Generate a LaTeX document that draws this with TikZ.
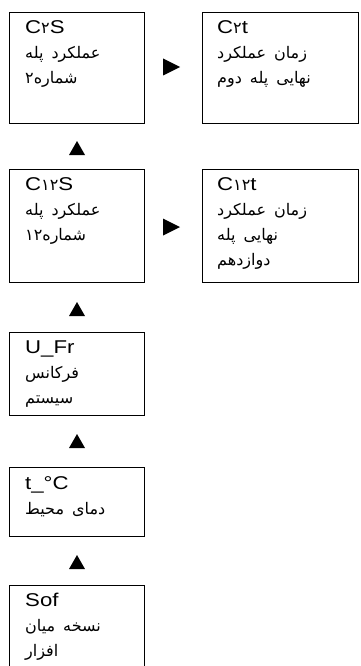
\documentclass[tikz,border=0pt]{standalone}
\usepackage{fontspec}
\setmainfont{Liberation Sans}[FakeStretch=1.2]
\newfontfamily\arfont[Script=Arabic]{DejaVu Sans}
\TeXXeTstate=1
\newcommand{\ar}[1]{{\arfont\fontsize{16}{25}\selectfont\spaceskip=8pt\beginR #1\endR}}
\newcommand{\fa}[1]{{\arfont\fontsize{16}{25}\selectfont #1}}
\newcommand{\fl}{\rule{0pt}{17pt}}
\begin{document}
\begin{tikzpicture}[x=1pt,y=-1pt,
  box/.style={draw=black, line width=1.4pt, rectangle, inner sep=0pt, anchor=north west},
  txt/.style={anchor=north west, align=left, inner sep=0pt, font=\fontsize{18.5}{25}\selectfont},
  tri/.style={fill=black}]
\useasboundingbox (0,0) rectangle (360,666);
% boxes
\node[box, minimum width=135pt, minimum height=111pt] (b1) at (9,12) {};
\node[box, minimum width=156pt, minimum height=111pt] (b2) at (202,12) {};
\node[box, minimum width=135pt, minimum height=113pt] (b3) at (9,169) {};
\node[box, minimum width=156pt, minimum height=113pt] (b4) at (202,169) {};
\node[box, minimum width=135pt, minimum height=83pt] (b5) at (9,332) {};
\node[box, minimum width=135pt, minimum height=69pt] (b6) at (9,467) {};
\node[box, minimum width=135pt, minimum height=100pt] (b7) at (9,585) {};
% texts (first baseline = top + 21)
\node[txt] (t1) at (25,16) {\fl C\fa{۲}S\\ \ar{عملکرد پله}\\ \ar{شماره۲}};
\node[txt] (t2) at (217,16) {\fl C\fa{۲}t\\ \ar{زمان عملکرد}\\ \ar{نهایی پله دوم}};
\node[txt] (t3) at (25,173) {\fl C\fa{۱۲}S\\ \ar{عملکرد پله}\\ \ar{شماره\beginL ۱۲\endL{}}};
\node[txt] (t4) at (217,173) {\fl C\fa{۱۲}t\\ \ar{زمان عملکرد}\\ \ar{نهایی پله}\\ \ar{دوازدهم}};
\node[txt] (t5) at (25,336) {\fl U\_Fr\\ \ar{فرکانس}\\ \ar{سیستم}};
\node[txt] (t6) at (25,472) {\fl t\_°C\\ \ar{دمای محیط}};
\node[txt] (t7) at (25,589) {\fl Sof\\ \ar{نسخه میان}\\ \ar{افزار}};
% arrows (right)
\coordinate (r1) at (163,67);
\coordinate (r2) at (163,227);
\fill[tri] (r1) ++(0,-8.5) -- ++(17,8.5) -- ++(-17,8.5) -- cycle;
\fill[tri] (r2) ++(0,-8.5) -- ++(17,8.5) -- ++(-17,8.5) -- cycle;
% arrows (up)
\coordinate (u1) at (77,148);
\coordinate (u2) at (77,309);
\coordinate (u3) at (77,441);
\coordinate (u4) at (77,562);
\foreach \u in {u1,u2,u3,u4}
  \fill[tri] (\u) ++(-8,7) -- ++(16,0) -- ++(-8,-14) -- cycle;
\end{tikzpicture}
\end{document}
